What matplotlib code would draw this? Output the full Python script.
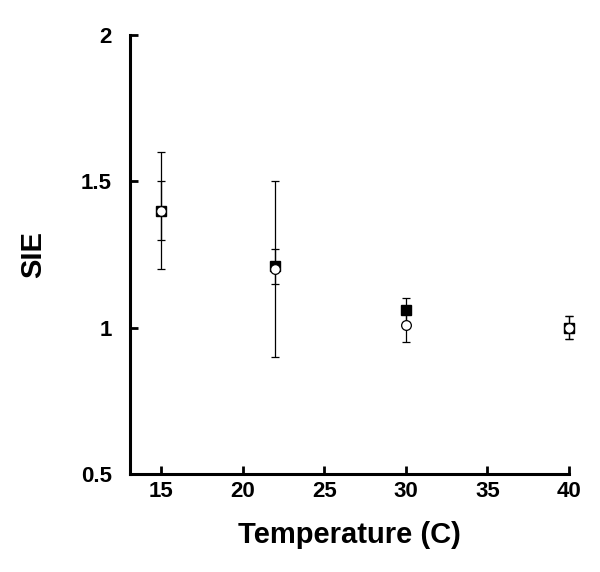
import numpy as np
import matplotlib
matplotlib.use('Agg')
import matplotlib.pyplot as plt

plt.rcParams['font.family'] = ['Liberation Sans', 'DejaVu Sans']
plt.rcParams['font.weight'] = 'bold'

temps = [15, 22, 30, 40]
sq_vals = [1.40, 1.21, 1.06, 1.00]
sq_err = [0.2, 0.06, 0.04, 0.04]
circ_vals = [1.40, 1.20, 1.01, 1.00]
circ_err = [0.1, 0.3, 0.06, 0.04]

xticks = [15, 20, 25, 30, 35, 40]
yticks = [0.5, 1, 1.5, 2]
yticklabels = ['0.5', '1', '1.5', '2']

fig = plt.figure(figsize=(6, 5.72), dpi=100)
ax = fig.add_axes([0.2167, 0.1713, 0.9483 - 0.2167, 0.9388 - 0.1713])

e1 = ax.errorbar(temps, sq_vals, yerr=sq_err, fmt='s', color='black', ms=7.5, mfc='black',
                 mec='black', ecolor='black', elinewidth=0.9, capsize=3, capthick=0.9, zorder=3)
e2 = ax.errorbar(temps, circ_vals, yerr=circ_err, fmt='o', color='black', ms=7, mfc='white',
                 mec='black', mew=0.9, ecolor='black', elinewidth=0.9, capsize=3, capthick=0.9, zorder=4)
for e in (e1, e2):
    for art in e.get_children():
        art.set_clip_on(False)

ax.set_xlim(13.1, 40)
ax.set_ylim(0.5, 2)
ax.set_xticks(xticks)
ax.set_yticks(yticks)
ax.set_yticklabels(yticklabels)

for s in ['top', 'right']:
    ax.spines[s].set_visible(False)
for s in ['left', 'bottom']:
    ax.spines[s].set_linewidth(2.2)

ax.tick_params(direction='in', length=6, width=2, labelsize=16, pad=5)
ax.tick_params(axis='y', pad=13)
for lab in ax.get_xticklabels() + ax.get_yticklabels():
    lab.set_fontweight('bold')

ax.set_xlabel('Temperature (C)', fontsize=21, fontweight='bold', labelpad=14)
ax.set_ylabel('SIE', fontsize=21, fontweight='bold', labelpad=24)

fig.savefig('out.png', dpi=100)
